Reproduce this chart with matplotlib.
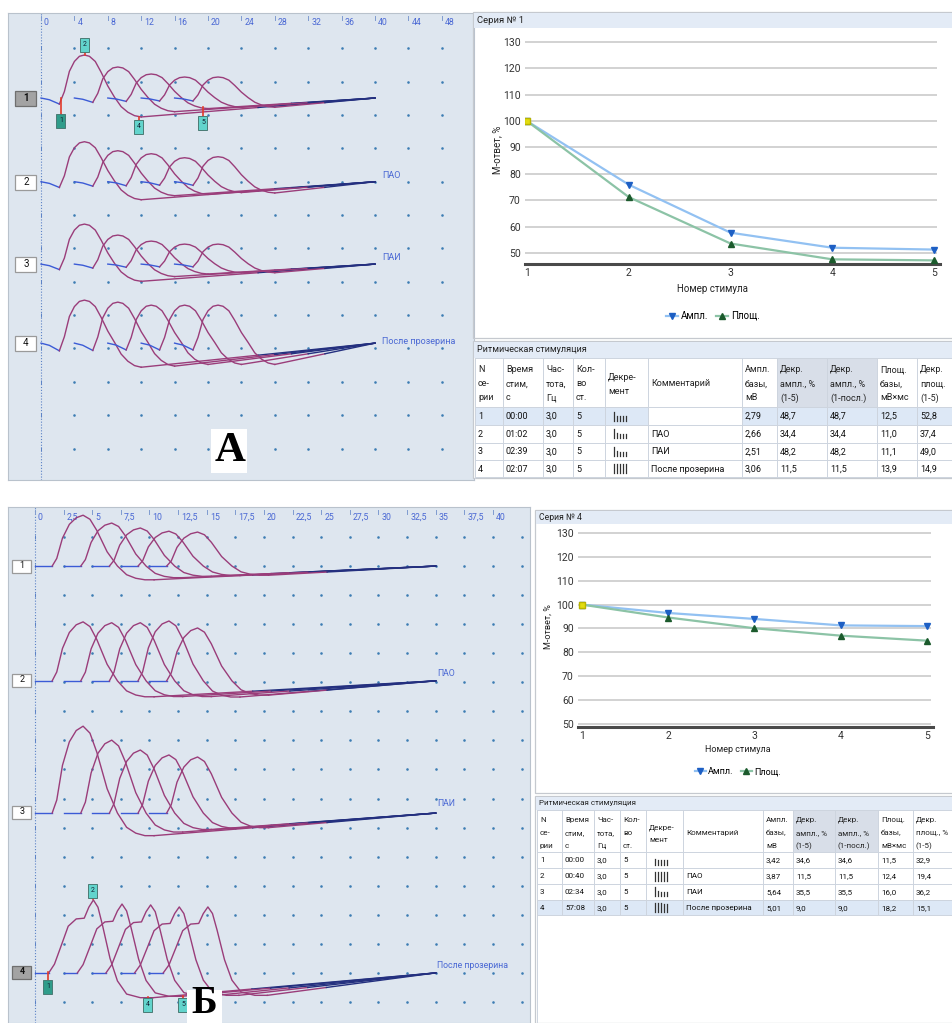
import matplotlib
matplotlib.use("Agg")
import matplotlib.pyplot as plt
from matplotlib.patches import Rectangle
from matplotlib.lines import Line2D

plt.rcParams['font.family'] = ['Roboto', 'DejaVu Sans']

# ---------------- data ----------------
# waveform panel tick labels
A_ticks = [0, 4, 8, 12, 16, 20, 24, 28, 32, 36, 40, 44, 48]
A_tick_labels = ['0', '4', '8', '12', '16', '20', '24', '28', '32', '36', '40', '44', '48']
B_ticks = [0, 2.5, 5, 7.5, 10, 12.5, 15, 17.5, 20, 22.5, 25, 27.5, 30, 32.5, 35, 37.5, 40]
B_tick_labels = ['0', '2,5', '5', '7,5', '10', '12,5', '15', '17,5', '20', '22,5', '25',
                 '27,5', '30', '32,5', '35', '37,5', '40']

series_names = ['1', '2', '3', '4']
series_comments = ['', 'ПАО', 'ПАИ', 'После прозерина']

# M-response template (time ms, relative amplitude)
A_tmpl_t = [0.0, 1.0, 2.2, 2.8, 3.4, 4.0, 4.6, 5.2, 5.8, 6.5, 7.2, 8.0, 8.8, 9.6, 10.4, 11.2, 12.0]
A_tmpl_v = [0.0, -0.04, -0.14, 0.15, 0.62, 0.85, 0.97, 1.0, 0.97, 0.85, 0.6, 0.28, 0.02, -0.2, -0.33, -0.41, -0.44]
# amplitudes (grid divisions) of the 5 responses of each series, panel A
A_amps = [[1.29, 0.93, 0.72, 0.63, 0.63],
          [1.20, 0.93, 0.84, 0.72, 0.75],
          [1.20, 0.87, 0.69, 0.60, 0.60],
          [1.29, 1.23, 1.14, 1.14, 1.14]]
A_trough = [0.44, 0.45, 0.43, 0.56]

B_tmpl_t = [0.0, 1.5, 1.9, 2.4, 3.0, 3.6, 4.2, 4.8, 5.4, 6.3, 7.2, 8.0, 8.8, 9.6, 10.4]
B_tmpl_v = [0.0, 0.0, 0.15, 0.55, 0.82, 0.95, 1.0, 0.92, 0.7, 0.28, 0.0, -0.17, -0.24, -0.27, -0.27]
B4_tmpl_t = [0.0, 1.2, 1.7, 2.35, 2.9, 3.6, 4.3, 4.7, 5.1, 5.5, 5.9, 6.55, 7.2, 8.0, 9.2, 10.3]
B4_tmpl_v = [0.0, 0.0, 0.12, 0.4, 0.64, 0.74, 0.75, 0.9, 1.0, 0.9, 0.65, 0.2, -0.11, -0.29, -0.34, -0.34]
B_amps = [[1.75, 1.48, 1.31, 1.20, 1.17],
          [2.03, 2.00, 2.00, 2.06, 1.82],
          [2.99, 2.51, 2.17, 2.00, 1.93],
          [2.51, 2.37, 2.34, 2.27, 2.27]]
B_trough = [0.27, 0.27, 0.26, 0.34]

# decrement charts
stimulus = [1, 2, 3, 4, 5]
yticks_chart = [50, 60, 70, 80, 90, 100, 110, 120, 130]
A_ampl = [100, 75.9, 57.7, 52.0, 51.3]
A_area = [100, 71.2, 53.6, 47.6, 47.2]
B_ampl = [100, 96.5, 94.0, 91.3, 91.0]
B_area = [100, 94.6, 90.1, 87.0, 84.9]

# tables
table_headers = [['N', 'се-', 'рии'], ['Время', 'стим,', 'с'], ['Час-', 'тота,', 'Гц'],
                 ['Кол-', 'во', 'ст.'], ['Декре-', 'мент'], ['Комментарий'],
                 ['Ампл.', 'базы,', 'мВ'], ['Декр.', 'ампл., %', '(1-5)'],
                 ['Декр.', 'ампл., %', '(1-посл.)'], ['Площ.', 'базы,', 'мВ×мс']]
A_last_header = ['Декр.', 'площ.', '(1-5)']
B_last_header = ['Декр.', 'площ., %', '(1-5)']
A_rows = [['1', '00:00', '3,0', '5', '', '', '2,79', '48,7', '48,7', '12,5', '52,8'],
          ['2', '01:02', '3,0', '5', '', 'ПАО', '2,66', '34,4', '34,4', '11,0', '37,4'],
          ['3', '02:39', '3,0', '5', '', 'ПАИ', '2,51', '48,2', '48,2', '11,1', '49,0'],
          ['4', '02:07', '3,0', '5', '', 'После прозерина', '3,06', '11,5', '11,5', '13,9', '14,9']]
B_rows = [['1', '00:00', '3,0', '5', '', '', '3,42', '34,6', '34,6', '11,5', '32,9'],
          ['2', '00:40', '3,0', '5', '', 'ПАО', '3,87', '11,5', '11,5', '12,4', '19,4'],
          ['3', '02:34', '3,0', '5', '', 'ПАИ', '5,64', '35,5', '35,5', '16,0', '36,2'],
          ['4', '57:08', '3,0', '5', '', 'После прозерина', '5,01', '9,0', '9,0', '18,2', '15,1']]
A_bars = [[1, 0.5, 0.5, 0.45, 0.45], [1, 0.55, 0.5, 0.5, 0.5], [1, 0.5, 0.45, 0.45, 0.45], [1, 1, 1, 1, 1]]
B_bars = [[0.6, 0.55, 0.5, 0.5, 0.5], [1, 0.95, 0.95, 0.95, 0.9], [1, 0.6, 0.5, 0.5, 0.5], [1, 0.95, 0.95, 0.9, 0.9]]

# ---------------- style ----------------
W, H = 953, 1023
BLUE = '#3b5bd6'
PURPLE = '#9a3d7a'
NAVY = '#24307f'
PANEL_BG = '#dee6ef'
DOT = '#3d7db3'
LBL = '#4a68d4'

fig = plt.figure(figsize=(W / 100, H / 100), dpi=100)


def ax_px(x0, y0, x1, y1, **kw):
    return fig.add_axes([x0 / W, 1 - y1 / H, (x1 - x0) / W, (y1 - y0) / H], **kw)


bg = ax_px(0, 0, W, H)
bg.set_xlim(0, W); bg.set_ylim(H, 0); bg.axis('off')


def wave_panel(box, t_px0, px_per_t, y_px0, px_per_div, ticks, tick_labels, dot_cols, n_rows):
    x0, y0, x1, y1 = box
    ax = ax_px(x0, y0, x1, y1)
    ax.set_xlim((x0 - t_px0) / px_per_t, (x1 - t_px0) / px_per_t)
    ax.set_ylim(-(y1 - y_px0) / px_per_div, -(y0 - y_px0) / px_per_div)
    ax.set_facecolor(PANEL_BG)
    ax.set_xticks([]); ax.set_yticks([])
    for s in ax.spines.values():
        s.set_color('#b9c2cc'); s.set_linewidth(0.8)
    xs, ys = [], []
    for r in range(n_rows):
        for c in dot_cols:
            xs.append(c); ys.append(-r)
    ax.scatter(xs, ys, s=3.5, color=DOT, zorder=1, linewidths=0)
    ax.axvline(0, color='#5b82c6', lw=0.8, ls=(0, (1, 1.6)), zorder=1)
    ax.scatter([0] * n_rows, [-r for r in range(n_rows)], marker='|', s=10, color='#5b82c6', linewidths=0.7)
    ytop_lbl = -((y0 + 10) - y_px0) / px_per_div
    ytick0 = -((y0 + 3) - y_px0) / px_per_div
    ytick1 = -((y0 + 7) - y_px0) / px_per_div
    dt = 3.0 / px_per_t
    for t, lab in zip(ticks, tick_labels):
        ax.plot([t, t], [ytick0, ytick1], color='#7f9bd0', lw=0.7)
        ax.text(t + dt, ytop_lbl, lab, color=LBL, fontsize=6.3, ha='left', va='center')
    return ax


def draw_series(ax, T, V, on_idx, base, amps, trough, shift, t_end, purple_frac):
    vmin = min(V)
    for k, a in enumerate(amps):
        off = k * shift
        tt = [t + off for t in T]
        vv = [base + a * (v if v >= 0 else v * trough / abs(vmin)) for v in V]
        ax.plot(tt[:on_idx + 1], vv[:on_idx + 1], color=BLUE, lw=1.0, zorder=3)
        ax.plot(tt[on_idx:], vv[on_idx:], color=PURPLE, lw=1.0, zorder=3)
        t0, v0 = tt[-1], vv[-1]
        tm = t0 + (t_end - t0) * purple_frac
        vm = v0 + (base - v0) * purple_frac
        ax.plot([t0, tm], [v0, vm], color=PURPLE, lw=1.0, zorder=3)
        ax.plot([tm, t_end], [vm, base], color=NAVY, lw=1.0, zorder=3)


# ---------- panel A waveforms ----------
axA = wave_panel((8, 13, 474, 480), 41, 8.35, 48.33, 33.35, A_ticks, A_tick_labels,
                 list(range(4, 52, 4)), 13)
A_base = [-1.49, -4.0, -6.47, -8.84]
for s in range(4):
    draw_series(axA, A_tmpl_t, A_tmpl_v, 2, A_base[s], A_amps[s], A_trough[s], 4.0, 40.0, 0.5)

# ---------- panel Б waveforms ----------
axB = wave_panel((8, 507, 530, 1023), 35, 11.45, 537, 29.06, B_ticks, B_tick_labels,
                 [2.5 * i for i in range(1, 18)], 17)
B_base = [-1.0, -4.95, -9.5, -15.0]
for s in range(3):
    draw_series(axB, B_tmpl_t, B_tmpl_v, 1, B_base[s], B_amps[s], B_trough[s], 2.5, 35.0, 0.35)
draw_series(axB, B4_tmpl_t, B4_tmpl_v, 1, B_base[3], B_amps[3], B_trough[3], 2.5, 35.0, 0.35)


# ---------- decrement charts ----------
def chart(box, xlim, ylim, ampl, area, gx):
    ax = ax_px(*box)
    ax.set_xlim(*xlim); ax.set_ylim(*ylim)
    ax.patch.set_alpha(0)
    for k in ['top', 'right', 'left']:
        ax.spines[k].set_visible(False)
    ax.spines['bottom'].set_color('#4a4a4a'); ax.spines['bottom'].set_linewidth(2.2)
    ax.hlines(yticks_chart, gx[0], gx[1], color='#cfcfcf', lw=1.3, zorder=1)
    ax.set_yticks(yticks_chart)
    ax.set_xticks(stimulus)
    ax.tick_params(length=0, labelsize=7.5, colors='#333333', pad=3)
    ax.plot(stimulus, ampl, color='#92c1f2', lw=1.6, marker='v', ms=5,
            mfc='#1d5fc4', mec='#1d5fc4', zorder=3)
    ax.plot(stimulus, area, color='#8cc3a6', lw=1.6, marker='^', ms=5,
            mfc='#1b5a2c', mec='#1b5a2c', zorder=3)
    ax.plot(stimulus[:1], ampl[:1], marker='s', ms=5, mfc='#e2dc10', mec='#b9b400', zorder=4)
    return ax


chart((525, 35, 940, 264), (0.980, 5.059), (45.83, 132.65), A_ampl, A_area, (0.98, 5.03))
chart((578, 525, 933, 727), (0.9536, 5.0696), (48.74, 133.35), B_ampl, B_area, (0.9536, 5.046))

# ---------- overlay ----------
ov = ax_px(0, 0, W, H)
ov.set_xlim(0, W); ov.set_ylim(H, 0); ov.axis('off')
ov.patch.set_alpha(0)


def frame(x0, y0, x1, y1, title, ty, fs):
    ov.add_patch(Rectangle((x0, y0), x1 - x0, y1 - y0, fill=False, ec='#c5c9cf', lw=0.9))
    ov.add_patch(Rectangle((x0 + 1, y0 + 1), x1 - x0, ty - y0, fc='#e3ebf6', ec='none'))
    ov.text(x0 + 4, y0 + 1 + (ty - y0) / 2, title, fontsize=fs, color='#222222', va='center')


frame(473, 12, 953, 338, 'Серия № 1', 27, 6.8)
frame(535, 510, 953, 793, 'Серия № 4', 523, 6.2)

# chart labels
ov.text(497, 150, 'М-ответ, %', rotation=90, fontsize=7, ha='center', va='center', color='#222222')
ov.text(713, 289, 'Номер стимула', fontsize=7, ha='center', va='center', color='#222222')
ov.text(548, 627, 'М-ответ, %', rotation=90, fontsize=6.5, ha='center', va='center', color='#222222')
ov.text(738, 750, 'Номер стимула', fontsize=6.5, ha='center', va='center', color='#222222')


def legend(cx, cy, fs, scale):
    h1 = Line2D([], [], color='#92c1f2', lw=1.6, marker='v', ms=5, mfc='#1d5fc4', mec='#1d5fc4')
    h2 = Line2D([], [], color='#8cc3a6', lw=1.6, marker='^', ms=5, mfc='#1b5a2c', mec='#1b5a2c')
    fig.legend([h1, h2], ['Ампл.', 'Площ.'], loc='center', bbox_to_anchor=(cx / W, 1 - cy / H),
               ncol=2, frameon=False, fontsize=fs, handlelength=1.2 * scale, handletextpad=0.3,
               columnspacing=0.8)


legend(713, 316, 7, 1.0)
legend(738, 772, 6.5, 1.0)

# waveform row boxes
def row_box(cx, cy, w, h, lab, selected, fs):
    ov.add_patch(Rectangle((cx - w / 2, cy - h / 2), w, h, fc='#a3a3a3' if selected else 'white',
                           ec='#6f6f6f' if selected else '#9a9a9a', lw=0.9, zorder=5))
    ov.text(cx, cy, lab, fontsize=fs, ha='center', va='center', color='#111111',
            fontweight='bold' if selected else 'normal', zorder=6)


for lab, cy, sel in zip(series_names, [98, 182, 264, 343], [True, False, False, False]):
    row_box(26, cy, 21, 15, lab, sel, 7)
for lab, cy, sel in zip(series_names, [566, 680, 812, 972], [False, False, False, True]):
    row_box(22, cy, 19, 13, lab, sel, 6.5)

for txt, cy in zip(series_comments[1:], [176, 258, 341]):
    ov.text(382, cy, txt, fontsize=6.5, color=LBL, ha='left', va='center')
for txt, cy in zip(series_comments[1:], [673, 804, 966]):
    ov.text(437, cy, txt, fontsize=6.3, color=LBL, ha='left', va='center')


# cursor markers
def cursor(x, ys0, ys1, cy, lab, dark):
    ov.plot([x, x], [ys0, ys1], color='#e23a2a', lw=1.2, zorder=6)
    ov.add_patch(Rectangle((x - 4.5, cy - 7), 9, 14, fc='#2f9c8a' if dark else '#62d4cc',
                           ec='#4a7a74', lw=0.7, zorder=7))
    ov.text(x, cy, lab, fontsize=5, ha='center', va='center', color='#123', zorder=8)


cursor(61, 98, 114, 121, '1', True)
cursor(85, 52, 55, 45, '2', False)
cursor(139, 117, 120, 127, '4', False)
cursor(203, 107, 116, 123, '5', False)
cursor(48, 972, 980, 987, '1', True)
cursor(93, 896, 899, 891, '2', False)
cursor(148, 997, 998, 1005, '4', False)
cursor(183, 996, 998, 1005, '5', False)

# big panel letters
ov.add_patch(Rectangle((211, 429), 36, 44, fc='white', ec='none', zorder=9))
ov.text(230, 451, 'А', fontsize=31, fontweight='bold', family='Liberation Serif',
        ha='center', va='center', zorder=10)
ov.add_patch(Rectangle((187, 990), 35, 40, fc='white', ec='none', zorder=9))
ov.text(204, 1022, 'Б', fontsize=28, fontweight='bold', family='Liberation Serif',
        ha='center', va='bottom', zorder=10)


# ---------- tables ----------
def table(frame_box, title_y1, x_edges, head_y, line_offs, row_edges, rows, bars, hl_row,
          last_header, fs, comment_white_hl):
    x0, y0, x1, y1 = frame_box
    ov.add_patch(Rectangle((x0, y0), x1 - x0, y1 - y0, fc='white', ec='#c5c9cf', lw=0.9))
    ov.add_patch(Rectangle((x0 + 1, y0 + 1), x1 - x0, title_y1 - y0, fc='#e3ebf6', ec='none'))
    ov.text(x0 + 4, (y0 + title_y1) / 2 + 0.5, 'Ритмическая стимуляция', fontsize=fs, va='center',
            color='#222222')
    hy0, hy1 = head_y
    # header shading
    for c in (7, 8):
        ov.add_patch(Rectangle((x_edges[c], hy0), x_edges[c + 1] - x_edges[c], hy1 - hy0,
                               fc='#d8dee8', ec='none'))
    # highlighted row
    if hl_row is not None:
        r0, r1 = row_edges[hl_row], row_edges[hl_row + 1]
        ov.add_patch(Rectangle((x_edges[0], r0), x_edges[-1] - x_edges[0], r1 - r0,
                               fc='#dde8f6', ec='none'))
        if comment_white_hl:
            ov.add_patch(Rectangle((x_edges[5], r0), x_edges[6] - x_edges[5], r1 - r0,
                                   fc='white', ec='none'))
    headers = table_headers + [last_header]
    for c, hdr in enumerate(headers):
        xl = x_edges[c] + 3
        n = len(hdr)
        if n == 3:
            ys = [hy0 + line_offs[0], hy0 + line_offs[1], hy0 + line_offs[2]]
        elif n == 2:
            ys = [hy0 + (line_offs[0] + line_offs[1]) / 2 + 1, hy0 + (line_offs[1] + line_offs[2]) / 2 + 1]
        else:
            ys = [hy0 + line_offs[1]]
        for yy, tx in zip(ys, hdr):
            ov.text(xl, yy, tx, fontsize=fs, va='center', ha='left', color='#222222')
    # grid lines
    for xe in x_edges:
        ov.plot([xe, xe], [hy0, row_edges[-1]], color='#cdd4de', lw=0.7)
    ov.plot([x_edges[0], x_edges[0]], [row_edges[-1], y1], color='#cdd4de', lw=0.7)
    for ye in [hy0] + list(row_edges):
        ov.plot([x_edges[0], x_edges[-1]], [ye, ye], color='#cdd4de', lw=0.7)
    # cells
    for r, row in enumerate(rows):
        yc = (row_edges[r] + row_edges[r + 1]) / 2
        for c, val in enumerate(row):
            if c == 4:
                hs = bars[r]
                bx = x_edges[4] + 9
                ybot = yc + 4.5
                for i, hgt in enumerate(hs):
                    ov.plot([bx + 3 * i, bx + 3 * i], [ybot, ybot - 9 * hgt], color='#333333', lw=0.9)
            elif val:
                ov.text(x_edges[c] + 3, yc + 0.5, val, fontsize=fs, va='center', ha='left',
                        color='#111111')


table((473, 341, 953, 478), 357,
      [475, 503, 543, 573, 605, 648, 742, 777, 827, 877, 917, 953],
      (358, 407), (12, 26, 40), [407, 425, 442.5, 460, 477], A_rows, A_bars, 0, A_last_header,
      6.5, True)
table((535, 796, 953, 1023), 809,
      [537, 562, 594, 620, 646, 683, 763, 793, 835, 878, 913, 953],
      (810, 852), (10, 23, 36), [852, 868, 884, 899.5, 915], B_rows, B_bars, 3, B_last_header,
      5.8, False)

fig.savefig('out.png', dpi=100)
